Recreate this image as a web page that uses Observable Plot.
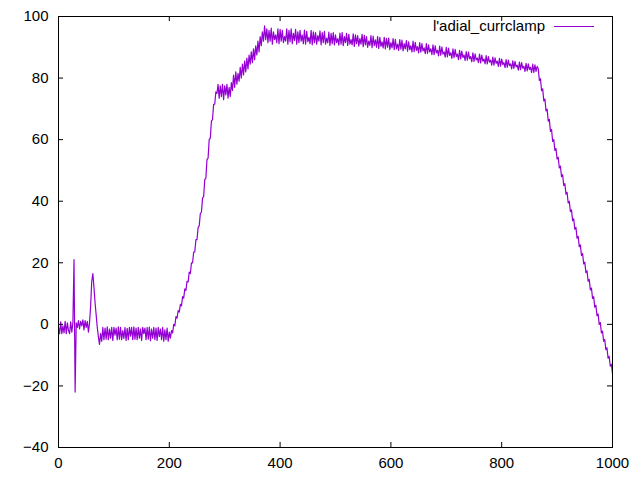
<!DOCTYPE html>
<html><head><meta charset="utf-8">
<script src="https://cdn.jsdelivr.net/npm/d3@7"></script>
<script src="https://cdn.jsdelivr.net/npm/@observablehq/plot@0.6"></script>
<style>body{margin:0;background:#fff;} svg{display:block;}</style>
</head><body><div id="chart"></div>
<script>
const seriesName = "l'adial_currclamp";
const xTicks = [0, 200, 400, 600, 800, 1000];
const yTicks = [-40, -20, 0, 20, 40, 60, 80, 100];
const sampleStep = 2; // trace sampled every 2 x-units

// each segment: first x, then the values
const preStimStart = 0;
const preStim = [-1, -3, 0.8, -3, -0.5, -2.8, 1, -3, 0.5, -2, -3, 0.8, -2.5, 0.5];
const artifactStart = 28;
const artifact = [21, -22, 0.5, -1, 1.2, -1.5, 1, -0.5, 1.5, -1.8, 1.2, -1, 1, -2.5, 0.5, 6, 14, 16.5, 12, 7, 3, -1, -4, -6.5, -3, -5.5];
const restingStart = 80;
const resting = [
  -1, -5, -1.2, -4.8, -0.8, -5, -1.5, -4.5, -1, -5.2,
  -1, -3.5, -1.2, -5, -0.8, -4.8, -1, -5, -2, -4.6,
  -1, -5.2, -1.3, -5, -1, -3.8, -1, -5, -0.8, -4.8,
  -1.2, -5, -1, -4.5, -1.5, -5.2, -1, -3, -1.2, -5,
  -1, -4.8, -0.9, -5.3, -1.5, -4.5, -1, -5, -1.2, -5.2,
  -1, -4, -1.5, -5, -1, -5.5, -1.8, -5, -1.2, -5.5,
  -2.5];
const riseStart = 202;
const rise = [-4.5, -2, -2.8, 0, -0.5, 2.5, 2, 4.5, 4, 6.5, 6, 9, 8.5, 11.5, 11, 14, 13.8, 17, 16.5, 20, 20, 23.5, 23.5, 27.5, 27.5, 31.5, 32, 36, 36.5, 41, 41.5, 47, 47.5, 53.5, 54, 60, 60.5, 66, 66.5, 71.5, 71.5, 75.5, 75, 78];
const shoulderStart = 290;
const shoulder = [73.5, 77.5, 74, 78, 73, 77.5, 74.5, 78, 73.5, 77, 74, 78.5, 76, 81, 77, 82, 78, 81.5, 79, 83.5, 80, 84.5, 81, 85.5, 82, 86.5, 83, 87.5, 84.5, 88.5, 85, 89.5, 86, 90.5, 87.5, 92, 88.5, 93.5, 90.5, 95, 92, 97, 92.5];
const plateauStart = 376;
const plateau = [
  96, 91.5, 95.5, 92, 96.2, 91, 95, 92.5, 94, 91.5,
  96, 91.2, 95.8, 92, 95.5, 91.5, 93.5, 92, 96, 91,
  95.5, 91.8, 96, 91.2, 94.5, 92.2, 95.8, 91, 95, 91.5,
  95.5, 92, 94, 91.2, 95.6, 91, 95.2, 91.8, 93.2, 91.2,
  95.5, 90.8, 95, 91.5, 94.8, 91, 93.8, 92, 95.3, 90.8,
  94.8, 91.5, 95.2, 91, 93, 91.4, 94.9, 90.6, 94.5, 91.2,
  94.8, 90.8, 94, 91.5, 92.8, 90.7, 94.6, 91, 94.8, 90.5,
  93.5, 91.5, 94.5, 90.6, 94.2, 91, 92.5, 90.8, 94.4, 90.3,
  94, 91.2, 93.8, 90.4, 92.8, 91, 94.2, 90.2, 93.9, 90.8,
  93.5, 90, 92, 90.6, 93.8, 89.9, 93.6, 90.5, 92.4, 90,
  93.5, 89.6, 93.2, 90.3, 91.8, 89.8, 93.2, 89.5, 92.9, 90,
  93, 89.2, 91.5, 89.8, 92.8, 89.2, 92.6, 89.5, 91, 89,
  92.5, 89.4, 92.3, 88.8, 91.2, 89.5, 92.2, 88.7, 91.8, 89.2,
  90.5, 88.5, 92, 88.6, 91.6, 89, 90.2, 88.2, 91.5, 88.4,
  91.2, 88.8, 89.8, 87.9, 91.2, 88, 90.8, 88.5, 89.5, 87.6,
  90.8, 87.6, 90.5, 88.2, 89, 87.2, 90.4, 87.4, 90.1, 87.8,
  88.5, 86.8, 90, 86.9, 89.7, 87.4, 88.2, 86.4, 89.5, 86.6,
  89.3, 87, 87.8, 86, 89, 86.2, 88.8, 86.7, 87.5, 85.7,
  88.6, 85.8, 88.4, 86.3, 87, 85.3, 88.2, 85.4, 87.9, 85.9,
  86.5, 85, 87.8, 84.9, 87.5, 85.5, 86.2, 84.6, 87.3, 84.6,
  87, 85.2, 85.8, 84.2, 86.8, 84.2, 86.6, 84.8, 85.5, 83.8,
  86.4, 83.9, 86.2, 84.4, 85, 83.4, 86, 83.5, 85.8, 84,
  84.6, 83, 85.6, 83.1, 85.4, 83.6, 84.2, 82.6, 85.2, 82.7,
  85, 83.2, 83.8, 82.2, 84.8, 82.3, 84.6, 82.8, 83.5, 81.8,
  84.5, 81.8, 84.3, 82.2, 83.8];
const declineStart = 866;
const decline = [
  83, 79.2, 79.8, 75.9, 76.5, 72.6, 73.2, 69.3, 69.9, 66,
  66.6, 62.7, 63.3, 59.4, 60, 56.5, 57.1, 53.7, 54.3, 50.8,
  51.4, 48, 48.6, 45.1, 45.7, 42.3, 42.9, 39.4, 40, 36.6,
  37.2, 33.7, 34.3, 30.9, 31.5, 28, 28.6, 25.2, 25.8, 22.4,
  23, 19.6, 20.2, 16.8, 17.4, 14, 14.6, 11.2, 11.8, 8.4,
  9, 5.6, 6.2, 2.8, 3.4, 0, 0.6, -2.8, -2.2, -5.5,
  -4.9, -8.2, -7.6, -11, -10.4, -13.6, -13, -16];

const segments = [
  [preStimStart, preStim], [artifactStart, artifact], [restingStart, resting],
  [riseStart, rise], [shoulderStart, shoulder], [plateauStart, plateau], [declineStart, decline]
];
const points = segments.flatMap(([start, vals]) => vals.map((v, i) => ({t: start + i * sampleStep, v})));

const W = 640, H = 480, mL = 58, mR = 28, mT = 16, mB = 33;
const innerW = W - mL - mR, innerH = H - mT - mB, tk = 5;
const color = "#9400d3";

const legend = (index, scales, values, dims) => {
  const g = d3.create("svg:g");
  const xr = dims.width - dims.marginRight;
  g.append("text").attr("x", xr - 67).attr("y", dims.marginTop + 15)
    .attr("text-anchor", "end").attr("fill", "black").attr("font-size", 15).text(seriesName);
  g.append("line").attr("x1", xr - 58).attr("x2", xr - 18)
    .attr("y1", dims.marginTop + 10.5).attr("y2", dims.marginTop + 10.5)
    .attr("stroke", color).attr("stroke-width", 1);
  return g.node();
};

const chart = Plot.plot({
  width: W, height: H,
  marginLeft: mL, marginRight: mR, marginTop: mT, marginBottom: mB,
  style: {fontFamily: "'Liberation Sans', Arial, sans-serif", fontSize: "15px", color: "black", background: "white"},
  x: {domain: [0, 1000]},
  y: {domain: [-40, 100]},
  marks: [
    Plot.line(points, {x: "t", y: "v", stroke: color, strokeWidth: 1.2}),
    Plot.tickX(xTicks, {x: d => d, insetTop: innerH - tk, stroke: "black"}),
    Plot.tickX(xTicks, {x: d => d, insetBottom: innerH - tk, stroke: "black"}),
    Plot.tickY(yTicks, {y: d => d, insetRight: innerW - tk, stroke: "black"}),
    Plot.tickY(yTicks, {y: d => d, insetLeft: innerW - tk, stroke: "black"}),
    Plot.frame({stroke: "black"}),
    Plot.axisX(xTicks, {tickSize: 0, tickPadding: 10, label: null, fontSize: 15, tickFormat: d3.format("d")}),
    Plot.axisY(yTicks, {tickSize: 0, tickPadding: 10, label: null, fontSize: 15, tickFormat: d3.format("d")}),
    legend
  ]
});
document.getElementById("chart").appendChild(chart);
</script>
</body></html>
